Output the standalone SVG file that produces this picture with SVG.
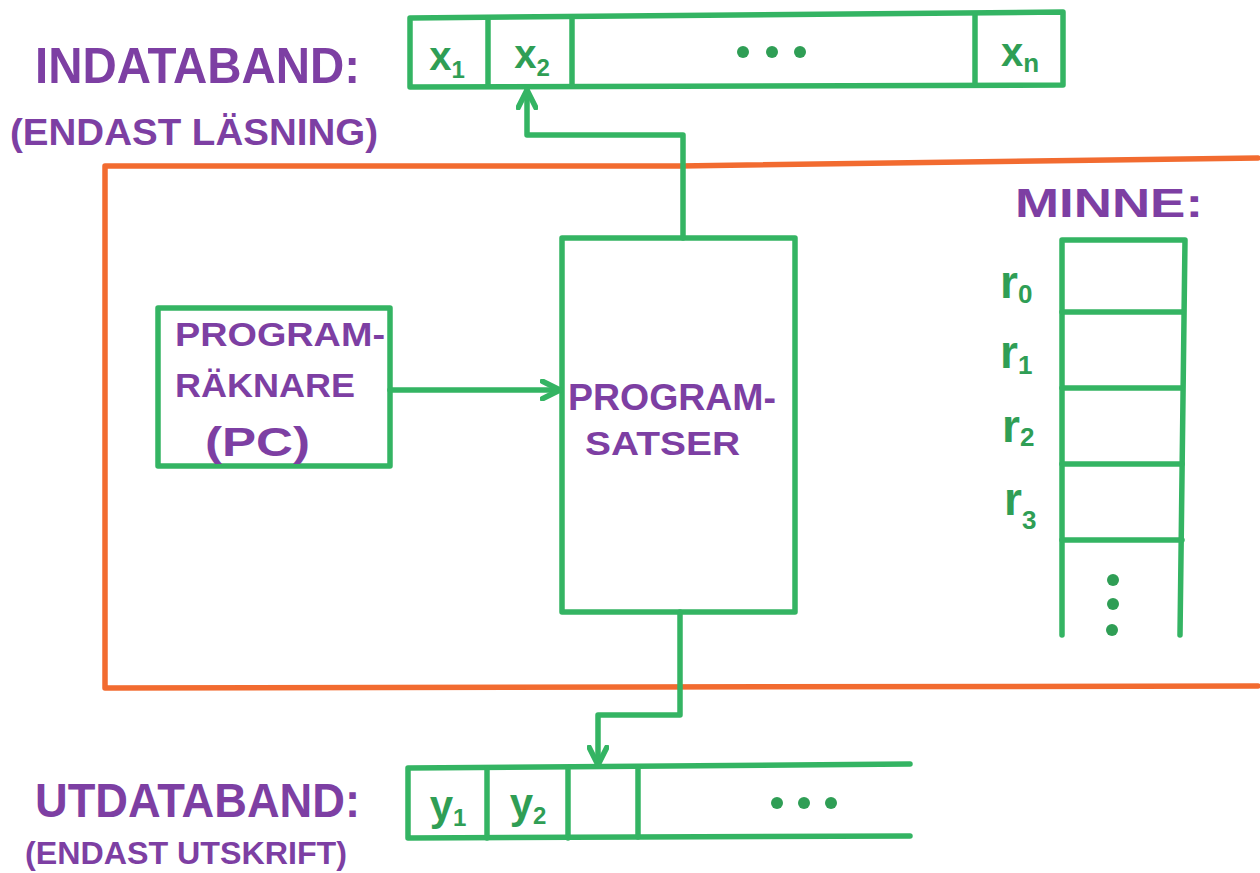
<svg xmlns="http://www.w3.org/2000/svg" width="1260" height="873" viewBox="0 0 1260 873">
<defs>
<style>
.g{fill:none;stroke:#34b463;stroke-width:5.5;stroke-linecap:round;stroke-linejoin:round}
.o{fill:none;stroke:#f26b30;stroke-width:5.5;stroke-linecap:round;stroke-linejoin:round}
.t{fill:#7d3fa3;font-family:"Liberation Sans",Arial,sans-serif;font-weight:bold}
.gt{fill:#2f9e55;font-family:"Liberation Sans",Arial,sans-serif;font-weight:bold}
.dot{fill:#2f9e55}
</style>
<marker id="ah" viewBox="0 0 20 20" refX="18" refY="10" markerWidth="22" markerHeight="22" markerUnits="userSpaceOnUse" orient="auto">
<path d="M2,2 L18,10 L2,18" fill="none" stroke="#34b463" stroke-width="5" stroke-linecap="round" stroke-linejoin="round"/>
</marker>
</defs>
<rect width="1260" height="873" fill="#ffffff"/>

<g id="cpu-frame">
<path class="o" d="M1258,158 L680,166 L105,166 L105,688 L1258,686"/>
</g>

<g id="input-label">
<text class="t" x="35" y="83" font-size="50" textLength="325" lengthAdjust="spacingAndGlyphs">INDATABAND:</text>
<text class="t" x="10" y="145" font-size="36" textLength="368" lengthAdjust="spacingAndGlyphs">(ENDAST LÄSNING)</text>
</g>

<g id="input-tape">
<path class="g" d="M410,18 L1063,12 L1063,85 L410,87 Z"/>
<line class="g" x1="488" y1="18" x2="488" y2="86"/>
<line class="g" x1="572" y1="17" x2="572" y2="86"/>
<line class="g" x1="975" y1="14" x2="975" y2="85"/>
<text class="gt" x="447" y="70" font-size="40" text-anchor="middle">x<tspan font-size="24" dy="8">1</tspan></text>
<text class="gt" x="532" y="68" font-size="40" text-anchor="middle">x<tspan font-size="24" dy="8">2</tspan></text>
<circle class="dot" cx="743" cy="52" r="6"/>
<circle class="dot" cx="772" cy="52" r="6"/>
<circle class="dot" cx="800" cy="52" r="6"/>
<text class="gt" x="1020" y="66" font-size="40" text-anchor="middle">x<tspan font-size="26" dy="6">n</tspan></text>
</g>

<g id="pc">
<rect class="g" x="158" y="308" width="232" height="158"/>
<text class="t" x="175" y="346" font-size="34" textLength="210" lengthAdjust="spacingAndGlyphs">PROGRAM-</text>
<text class="t" x="175" y="397" font-size="34" textLength="180" lengthAdjust="spacingAndGlyphs">RÄKNARE</text>
<text class="t" x="205" y="456" font-size="40" textLength="105" lengthAdjust="spacingAndGlyphs">(PC)</text>
</g>

<g id="program">
<rect class="g" x="562" y="238" width="233" height="374"/>
<text class="t" x="568" y="410" font-size="36" textLength="208" lengthAdjust="spacingAndGlyphs">PROGRAM-</text>
<text class="t" x="585" y="455" font-size="34" textLength="155" lengthAdjust="spacingAndGlyphs">SATSER</text>
</g>

<g id="memory">
<text class="t" x="1015" y="217" font-size="40" textLength="188" lengthAdjust="spacingAndGlyphs">MINNE:</text>
<path class="g" d="M1062,635 L1062,240 L1185,240 L1180,635"/>
<line class="g" x1="1062" y1="312" x2="1182" y2="312"/>
<line class="g" x1="1062" y1="388" x2="1182" y2="388"/>
<line class="g" x1="1062" y1="464" x2="1182" y2="464"/>
<line class="g" x1="1062" y1="540" x2="1182" y2="540"/>
<text class="gt" x="1000" y="298" font-size="46">r<tspan font-size="26" dy="5">0</tspan></text>
<text class="gt" x="1000" y="368" font-size="46">r<tspan font-size="26" dy="6">1</tspan></text>
<text class="gt" x="1002" y="442" font-size="46">r<tspan font-size="26" dy="4">2</tspan></text>
<text class="gt" x="1004" y="515" font-size="46">r<tspan font-size="26" dy="14">3</tspan></text>
<circle class="dot" cx="1113" cy="580" r="6"/>
<circle class="dot" cx="1113" cy="604" r="6"/>
<circle class="dot" cx="1112" cy="630" r="6"/>
</g>

<g id="output-label">
<text class="t" x="35" y="817" font-size="48" textLength="325" lengthAdjust="spacingAndGlyphs">UTDATABAND:</text>
<text class="t" x="25" y="864" font-size="32" textLength="322" lengthAdjust="spacingAndGlyphs">(ENDAST UTSKRIFT)</text>
</g>

<g id="output-tape">
<path class="g" d="M910,764 L408,768 L408,838 L910,836"/>
<line class="g" x1="487" y1="768" x2="487" y2="838"/>
<line class="g" x1="568" y1="768" x2="568" y2="838"/>
<line class="g" x1="638" y1="767" x2="638" y2="837"/>
<text class="gt" x="448" y="820" font-size="42" text-anchor="middle">y<tspan font-size="24" dy="6">1</tspan></text>
<text class="gt" x="528" y="818" font-size="42" text-anchor="middle">y<tspan font-size="24" dy="6">2</tspan></text>
<circle class="dot" cx="777" cy="803" r="6"/>
<circle class="dot" cx="804" cy="803" r="6"/>
<circle class="dot" cx="831" cy="803" r="6"/>
</g>

<g id="connectors">
<path class="g" d="M683,238 L683,135 L527,135 L527,90" marker-end="url(#ah)"/>
<path class="g" d="M390,390 L560,390" marker-end="url(#ah)"/>
<path class="g" d="M680,612 L680,715 L598,715 L598,765" marker-end="url(#ah)"/>
</g>
</svg>
